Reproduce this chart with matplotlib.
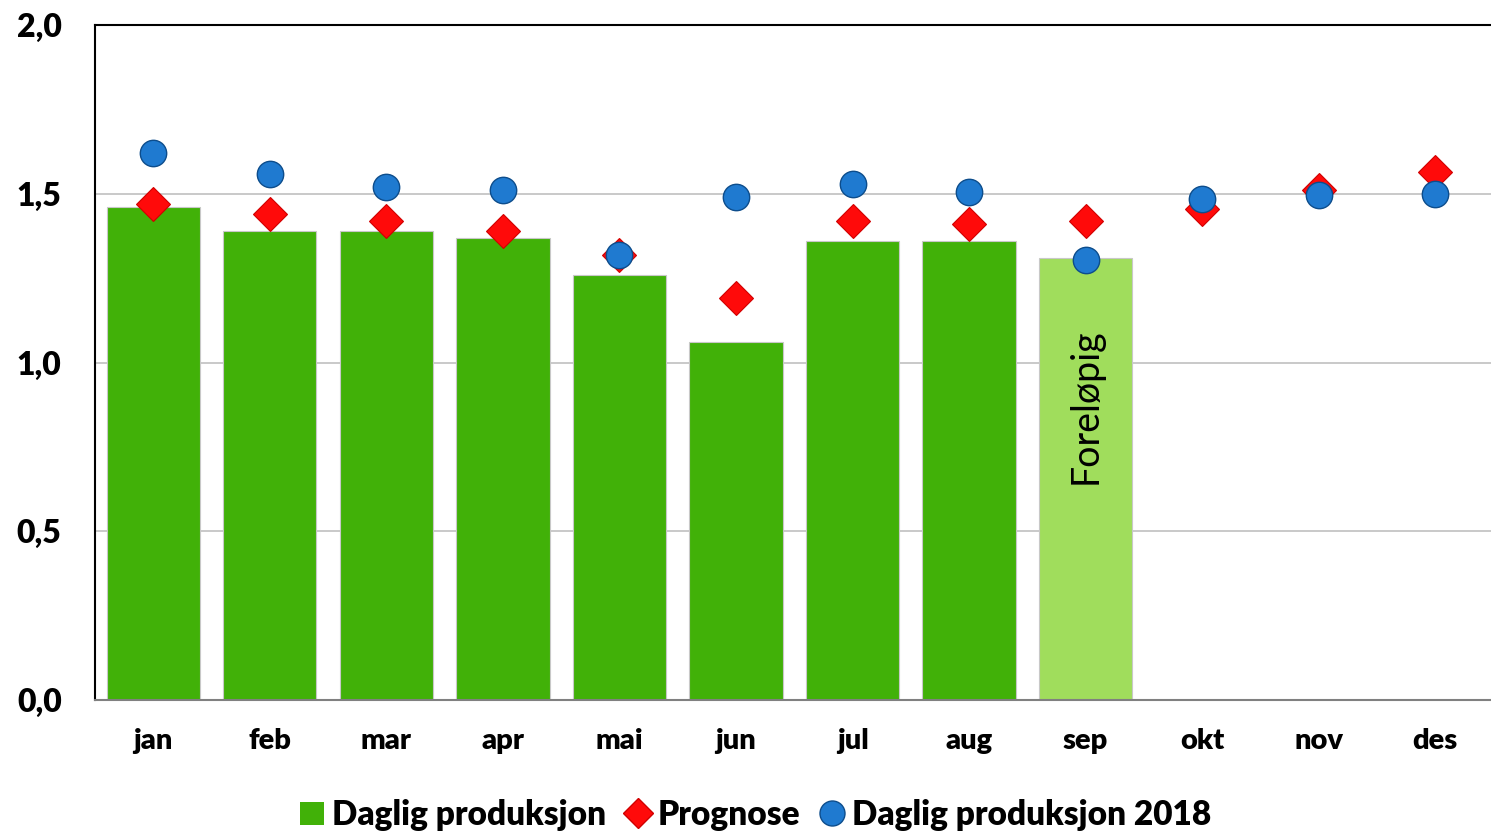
import matplotlib.pyplot as plt
from matplotlib.lines import Line2D
from matplotlib.patches import Patch

plt.rcParams['font.family'] = ['Lato', 'DejaVu Sans']

# Data
months = ['jan', 'feb', 'mar', 'apr', 'mai', 'jun', 'jul', 'aug', 'sep', 'okt', 'nov', 'des']
produksjon = [1.46, 1.39, 1.39, 1.37, 1.26, 1.06, 1.36, 1.36, 1.31]
prognose = [1.47, 1.44, 1.42, 1.39, 1.32, 1.19, 1.42, 1.41, 1.42, 1.455, 1.51, 1.565]
produksjon_2018 = [1.62, 1.56, 1.52, 1.51, 1.32, 1.49, 1.53, 1.505, 1.305, 1.485, 1.495, 1.50]

fig = plt.figure(figsize=(14.91, 8.35), dpi=100)
ax = fig.add_axes([0.0637, 0.1617, 0.938, 0.8083])

x = list(range(len(months)))
bar_colors = ['#41b108'] * (len(produksjon) - 1) + ['#a0dd5c']
ax.bar(x[:len(produksjon)], produksjon, width=0.8, color=bar_colors,
       edgecolor='#c8c8c8', linewidth=0.8, zorder=2)

ax.plot(x, prognose, linestyle='none', marker='D', markersize=17,
        markerfacecolor='#ff0a0a', markeredgecolor='#d00000', markeredgewidth=0.8, zorder=3)
ax.plot(x, produksjon_2018, linestyle='none', marker='o', markersize=19,
        markerfacecolor='#1f7ad0', markeredgecolor='#0d4d8c', markeredgewidth=1.0, zorder=4)

ax.text(8, 0.87, 'Foreløpig', rotation=90, ha='center', va='center',
        fontsize=27, color='black', zorder=5)

ax.set_xlim(-0.5, 11.5)
ax.set_ylim(0, 2.0)
ax.set_yticks([0, 0.5, 1.0, 1.5, 2.0])
ax.set_yticklabels(['0,0', '0,5', '1,0', '1,5', '2,0'], fontsize=23, fontweight='heavy')
ax.set_xticks(x)
ax.set_xticklabels(months, fontsize=21, fontweight='heavy')
ax.tick_params(axis='both', length=0)
ax.tick_params(axis='x', pad=20)
ax.tick_params(axis='y', pad=24)

ax.yaxis.grid(True, color='#c0c0c0', linewidth=1.2, zorder=0)
ax.set_axisbelow(True)
ax.spines['left'].set_color('black')
ax.spines['left'].set_linewidth(1.5)
ax.spines['top'].set_color('black')
ax.spines['top'].set_linewidth(1.5)
ax.spines['bottom'].set_color('#808080')
ax.spines['bottom'].set_linewidth(1.5)
ax.spines['right'].set_visible(False)

handles = [
    Patch(facecolor='#41b108', label='Daglig produksjon'),
    Line2D([], [], linestyle='none', marker='D', markersize=15, markerfacecolor='#ff0a0a',
           markeredgecolor='#d00000', label='Prognose'),
    Line2D([], [], linestyle='none', marker='o', markersize=18, markerfacecolor='#1f7ad0',
           markeredgecolor='#0d4d8c', label='Daglig produksjon 2018'),
]
fig.legend(handles=handles, loc='center', bbox_to_anchor=(0.507, 0.024), ncol=3,
           frameon=False, prop={'size': 24, 'weight': 'heavy'},
           handlelength=0.7, handletextpad=0.25, columnspacing=0.6)

fig.savefig('out.png', dpi=100)
